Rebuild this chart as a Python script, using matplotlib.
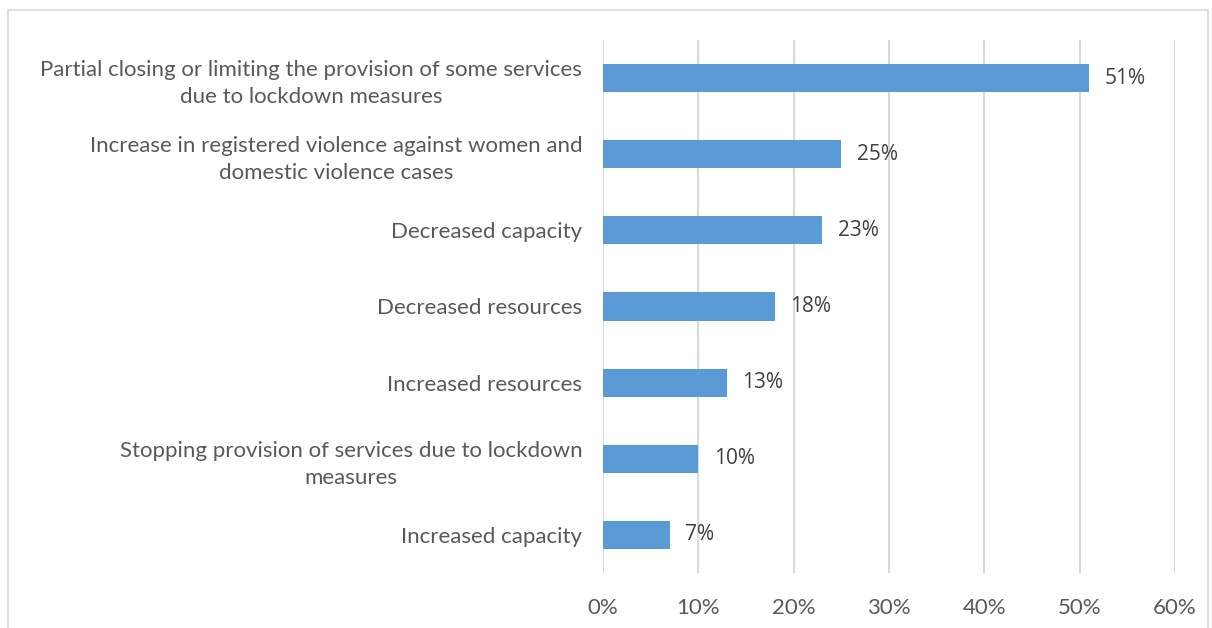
import matplotlib.pyplot as plt
from matplotlib.patches import Rectangle
from matplotlib.ticker import PercentFormatter

categories = [
    "Partial closing or limiting the provision of some services\ndue to lockdown measures",
    "Increase in registered violence against women and\ndomestic violence cases",
    "Decreased capacity",
    "Decreased resources",
    "Increased resources",
    "Stopping provision of services due to lockdown\nmeasures",
    "Increased capacity",
]
values = [51, 25, 23, 18, 13, 10, 7]
xticks = [0, 10, 20, 30, 40, 50, 60]

plt.rcParams['font.family'] = ['Lato', 'DejaVu Sans']

fig = plt.figure(figsize=(12.12, 6.28), dpi=100)
ax = fig.add_axes([0.4975, 0.0876, 0.472, 0.8487])

pos = list(range(len(categories)))[::-1]
ax.barh(pos, values, height=0.37, color='#5b9bd5', zorder=3)
for p, v in zip(pos, values):
    ax.text(v + 1.6, p, f"{v}%", va='center', ha='left', fontsize=15,
            color='#404040', family=['Open Sans', 'DejaVu Sans'])

ax.set_xlim(0, 60)
ax.set_ylim(-0.5, len(categories) - 0.5)
ax.set_xticks(xticks)
ax.xaxis.set_major_formatter(PercentFormatter(decimals=0))
ax.set_yticks(pos)
ax.set_yticklabels(categories, ha='right', multialignment='center', linespacing=1.45)
ax.tick_params(axis='both', length=0, labelsize=16, labelcolor='#595959')
ax.tick_params(axis='x', pad=18)
ax.tick_params(axis='y', pad=15)
ax.grid(axis='x', color='#d9d9d9', linewidth=1.5, zorder=0)
for s in ax.spines.values():
    s.set_visible(False)

# thin frame round the whole chart
fig.patches.append(Rectangle((0.007, -0.01), 0.99, 0.994, transform=fig.transFigure,
                             fill=False, edgecolor='#d9d9d9', linewidth=1.2))

fig.savefig('out.png', dpi=100)
